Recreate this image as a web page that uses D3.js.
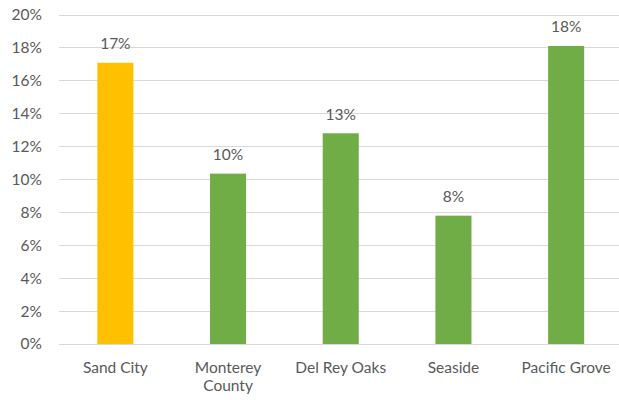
<!DOCTYPE html>
<html>
<head>
<meta charset="utf-8">
<script src="https://cdn.jsdelivr.net/npm/d3@7/dist/d3.min.js"></script>
<style>
  html, body { margin: 0; padding: 0; background: #fff; }
  svg { display: block; }
  text { font-family: Lato, "Open Sans", sans-serif; fill: #595959; }
</style>
</head>
<body>
<svg id="chart" width="619" height="400"></svg>
<script>
const categories = ["Sand City", "Monterey County", "Del Rey Oaks", "Seaside", "Pacific Grove"];
const categoryLines = [["Sand City"], ["Monterey", "County"], ["Del Rey Oaks"], ["Seaside"], ["Pacific Grove"]];
const values = [0.1707, 0.1034, 0.1279, 0.0779, 0.1809];
const valueLabels = ["17%", "10%", "13%", "8%", "18%"];
const barColors = ["#FFC000", "#70AD47", "#70AD47", "#70AD47", "#70AD47"];
const yTicks = [0, 0.02, 0.04, 0.06, 0.08, 0.10, 0.12, 0.14, 0.16, 0.18, 0.20];

(function () {
const svg = d3.select("#chart");
const mLeft = 59, mRight = 622.5, mTop = 14.5, mBottom = 344;
const fs = "15.5px";

const x = d3.scaleBand().domain(categories).range([mLeft, mRight])
  .paddingInner(0.68).paddingOuter(0.34);
const y = d3.scaleLinear().domain([0, 0.2]).range([mBottom, mTop]);

// gridlines
svg.append("g").selectAll("line").data(yTicks).join("line")
  .attr("x1", mLeft).attr("x2", 619)
  .attr("y1", d => Math.round(y(d)) + 0.5).attr("y2", d => Math.round(y(d)) + 0.5)
  .attr("stroke", "#D9D9D9").attr("stroke-width", 1);

// y axis labels
const yAxis = d3.axisLeft(y).tickValues(yTicks).tickFormat(d3.format(".0%")).tickSize(0).tickPadding(17);
const gy = svg.append("g").attr("transform", `translate(${mLeft},0)`).call(yAxis);
gy.select(".domain").remove();
gy.selectAll("text").style("font-size", fs).style("font-family", "Lato, sans-serif").attr("fill", "#595959");

// bars
svg.append("g").selectAll("rect").data(categories).join("rect")
  .attr("x", d => x(d))
  .attr("width", x.bandwidth())
  .attr("y", (d, i) => y(values[i]))
  .attr("height", (d, i) => y(0) - y(values[i]))
  .attr("fill", (d, i) => barColors[i]);

// value labels
svg.append("g").selectAll("text").data(categories).join("text")
  .attr("x", d => x(d) + x.bandwidth() / 2)
  .attr("y", (d, i) => y(values[i]) - 13.5)
  .attr("text-anchor", "middle")
  .style("font-size", fs)
  .text((d, i) => valueLabels[i]);

// x labels
const xl = svg.append("g").selectAll("text").data(categories).join("text")
  .attr("x", d => x(d) + x.bandwidth() / 2)
  .attr("y", 373)
  .attr("text-anchor", "middle")
  .style("font-size", fs);
xl.each(function(d, i) {
  const t = d3.select(this);
  categoryLines[i].forEach((ln, j) => {
    t.append("tspan").attr("x", x(d) + x.bandwidth() / 2).attr("dy", j === 0 ? 0 : 18).text(ln);
  });
});
})();
</script>
</body>
</html>
